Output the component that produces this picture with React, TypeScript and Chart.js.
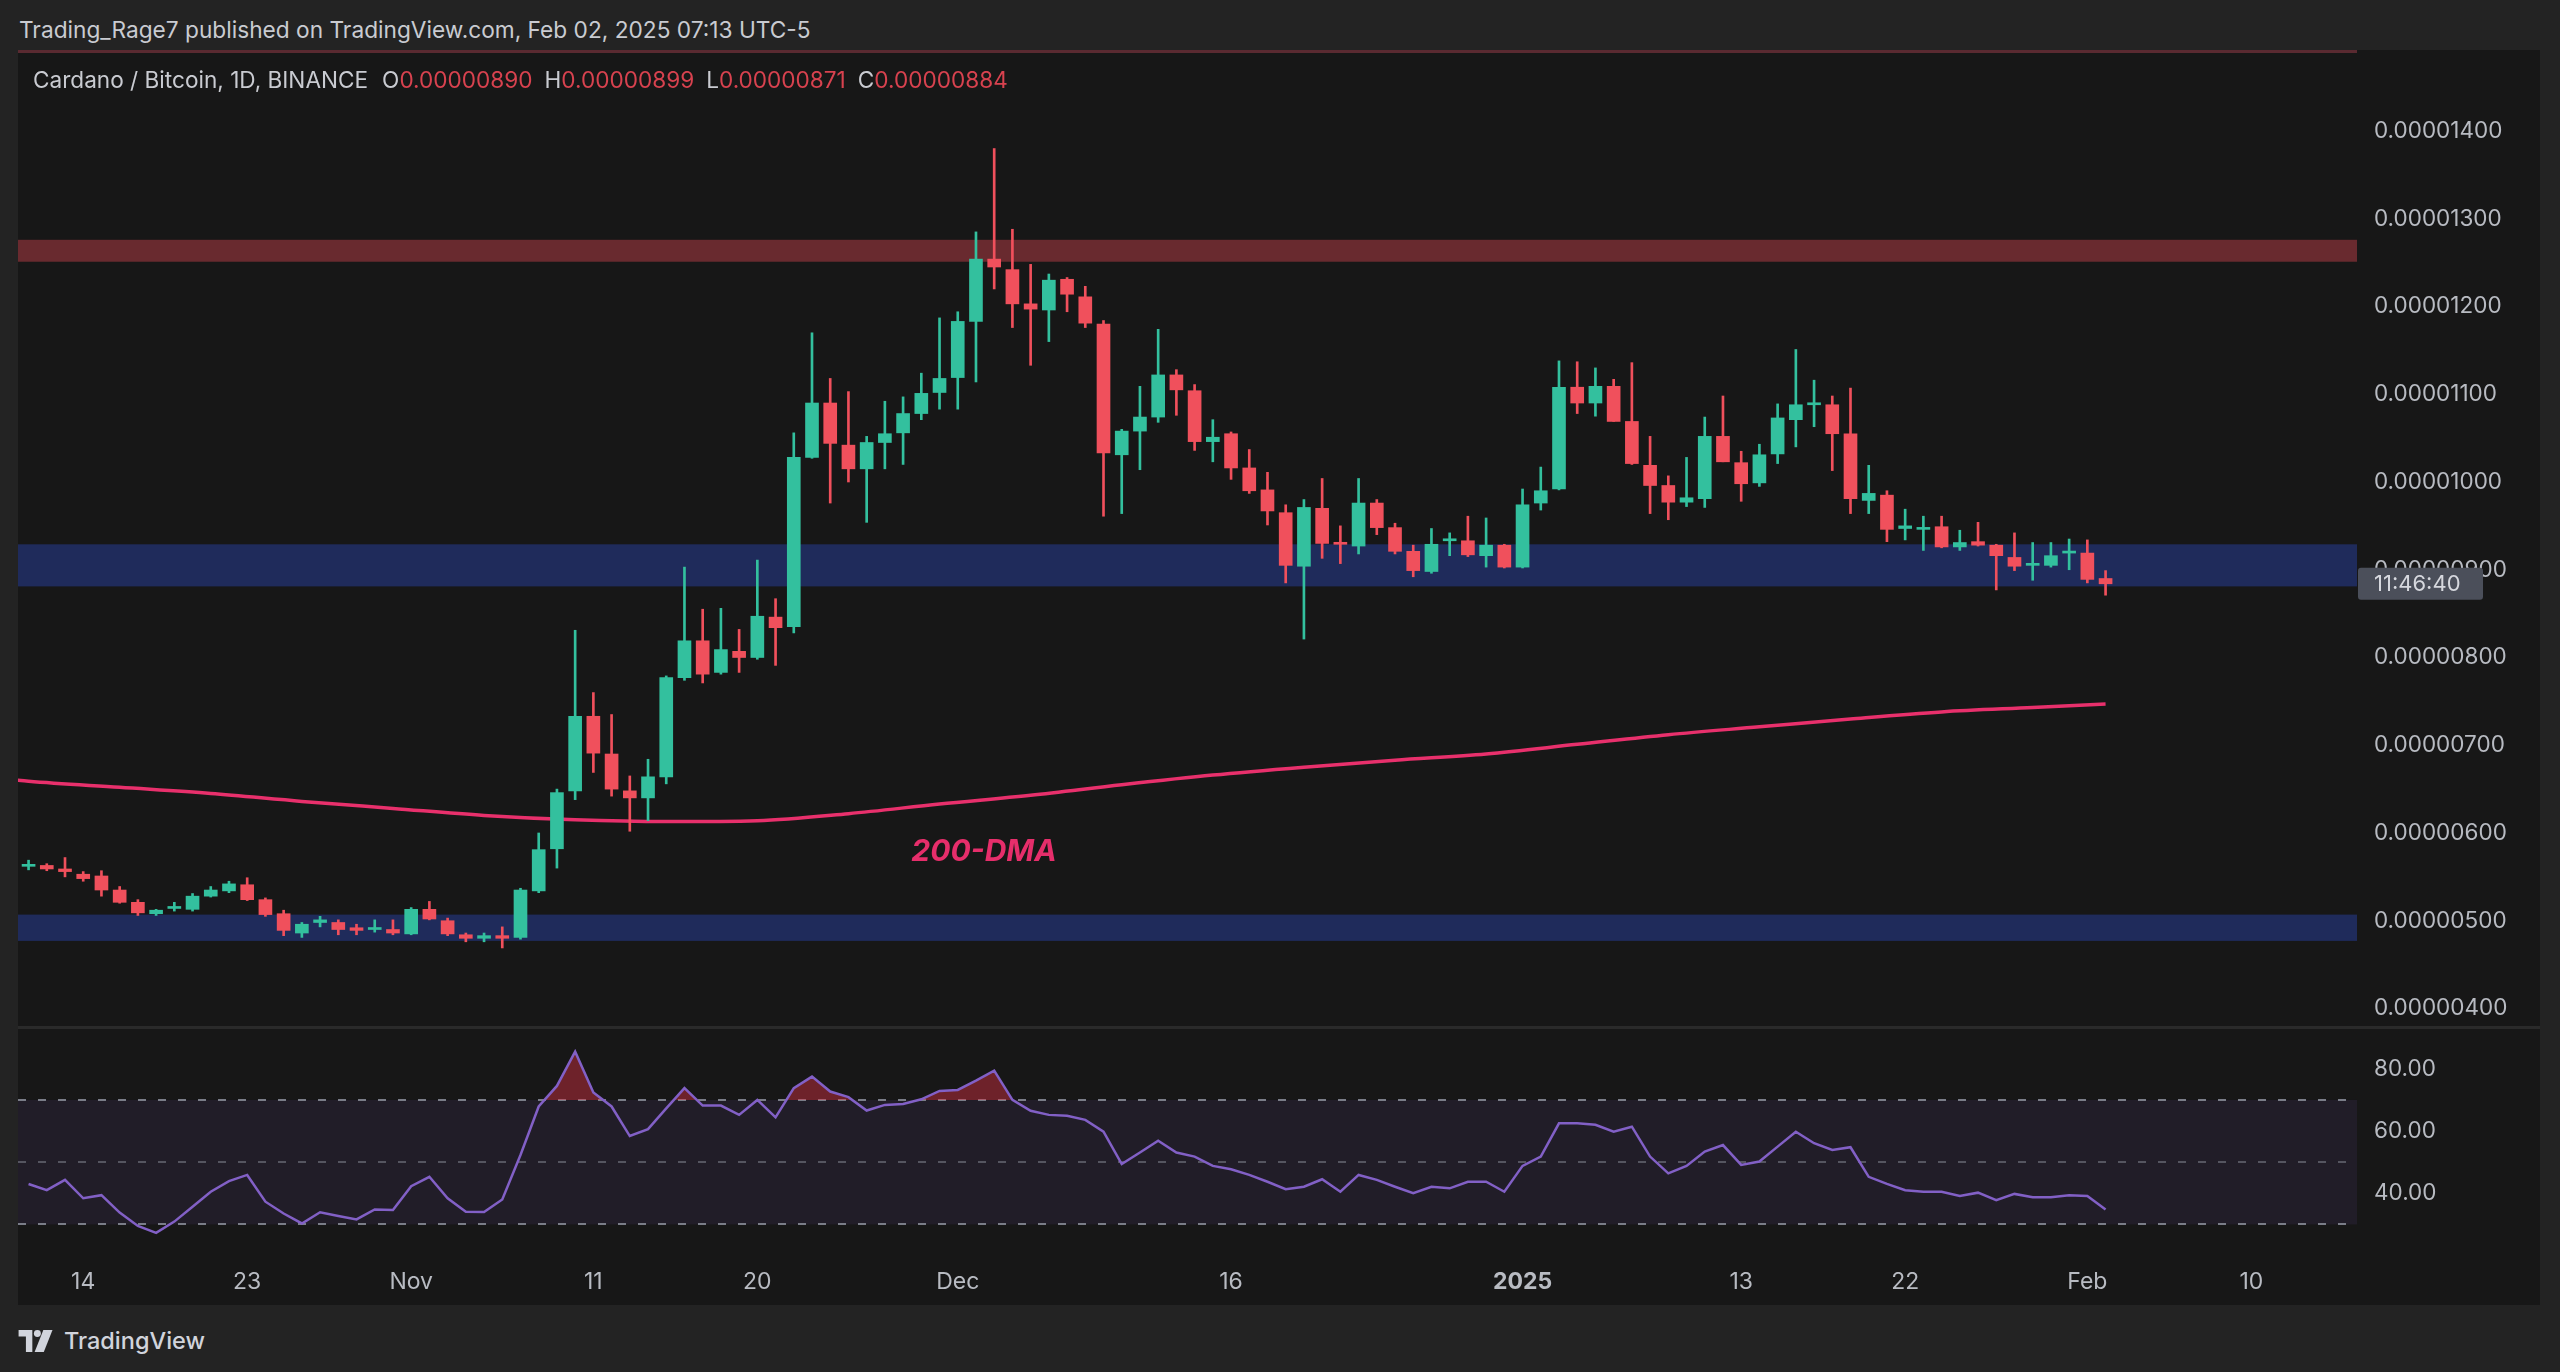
import React, { useEffect, useRef } from 'react';
import { Chart, registerables } from 'chart.js';

Chart.register(...registerables);

// ---------- data (prices in satoshi, i.e. units of 0.00000001 BTC) ----------
const startDate = '2024-10-11';
const opens = [562,563,559,553,551,535,521,508,514,513, 528,534,541,524,508,486,498,498,492,490, 490,485,513,500,484,480,483,481,534,582, 648,733,690,648,640,664,777,819,783,807, 800,846,835,1028,1090,1042,1015,1045,1056,1078, 1102,1119,1183,1254,1242,1203,1196,1231,1211,1180, 1031,1058,1074,1122,1104,1046,1055,1016,991,965, 904,970,931,927,976,948,921,898,933,933, 916,928,903,976,992,1108,1090,1109,1069,1019, 996,977,981,1052,1022,999,1032,1071,1088,1088, 1055,979,985,947,946,949,926,932,928,914, 905,905,919,919,890];
const highs = [569,565,572,556,557,539,524,513,521,531, 539,545,549,526,512,498,505,501,496,501, 501,515,522,503,486,486,493,537,600,650, 831,760,735,665,684,779,903,855,856,832, 911,867,1056,1170,1118,1103,1052,1092,1097,1124, 1187,1194,1285,1380,1288,1248,1237,1233,1223,1184, 1060,1109,1174,1128,1111,1071,1057,1037,1011,974, 980,1004,950,1004,980,953,928,947,942,961, 959,929,992,1017,1138,1137,1130,1117,1136,1052, 1007,1028,1074,1098,1035,1043,1089,1151,1116,1098, 1107,1019,990,969,961,961,945,954,929,942, 931,931,935,934,899];
const lows = [558,557,550,545,528,520,506,506,511,511, 527,532,523,505,483,481,493,484,484,487, 484,484,501,483,476,476,469,479,532,560, 638,669,642,602,614,656,774,771,781,783, 798,791,828,1027,976,1000,954,1015,1020,1071, 1083,1083,1114,1220,1176,1133,1160,1194,1176,961, 964,1014,1068,1076,1036,1023,1003,987,951,885, 821,913,907,918,940,918,892,896,916,915, 903,902,902,968,991,1078,1075,1069,1020,964, 957,972,971,1023,978,995,1021,1040,1063,1013, 964,964,932,934,922,925,922,927,877,899, 888,903,900,885,871];
const closes = [564,559,556,548,535,521,509,512,516,528, 535,542,524,507,489,496,501,490,489,492, 486,513,502,485,480,483,480,535,581,646, 733,691,650,640,664,777,819,781,809,800, 847,834,1028,1090,1044,1015,1045,1055,1078,1101, 1118,1183,1254,1245,1203,1197,1230,1214,1181,1033, 1058,1074,1122,1105,1046,1051,1016,990,967,905, 971,930,929,976,948,921,899,929,935,917, 928,903,974,990,1108,1090,1109,1069,1021,996, 977,982,1052,1023,998,1031,1073,1088,1090,1055, 981,987,946,950,948,926,931,928,916,904, 907,916,921,889,884];
const rsiValues = [43.0,41.0,44.3,38.4,39.4,33.8,29.5,27.3,30.9,35.7, 40.5,43.9,45.9,37.3,33.5,30.3,33.9,32.7,31.6,34.8, 34.6,42.3,45.3,38.4,34.1,34.0,38.0,52.3,67.9,74.5, 85.5,72.4,67.9,58.4,60.6,67.3,73.8,68.2,68.2,65.2, 70.0,64.4,73.8,77.5,72.7,70.9,66.6,68.4,68.7,70.2, 72.9,73.2,76.2,79.4,70.0,66.5,65.2,64.9,63.6,59.8, 49.4,53.1,56.9,53.1,51.8,48.8,47.7,45.9,43.7,41.3, 42.1,44.5,40.5,45.9,44.3,42.1,40.0,42.1,41.6,43.7, 43.7,40.5,48.8,51.8,62.5,62.5,62.0,59.8,61.4,51.8, 46.4,48.8,53.4,55.5,49.1,50.2,55.0,59.8,56.1,53.9, 54.8,45.3,43.0,41.0,40.5,40.5,39.1,40.2,37.8,39.8, 38.7,38.7,39.4,39.1,34.8];
const dmaDates = ['2024-10-10','2024-10-11','2024-10-16','2024-10-21','2024-10-26','2024-10-31','2024-11-05','2024-11-10','2024-11-15','2024-11-20','2024-11-25','2024-11-30','2024-12-05','2024-12-10','2024-12-15','2024-12-20','2024-12-25','2024-12-30','2025-01-04','2025-01-09','2025-01-14','2025-01-19','2025-01-24','2025-01-29','2025-02-02'];
const dmaValues = [661,659,652,645,636,628,620,615,613,614,622,633,643,655,666,675,683,690,701,712,721,730,738,743,747];
const xTickDates = ['2024-10-14','2024-10-23','2024-11-01','2024-11-11','2024-11-20','2024-12-01','2024-12-16','2025-01-01','2025-01-13','2025-01-22','2025-02-01','2025-02-10'];
const xTickLabels = ['14','23','Nov','11','20','Dec','16','2025','13','22','Feb','10'];
const priceTicks = [400,500,600,700,800,900,1000,1100,1200,1300,1400];
const rsiTicks = [40,60,80];
const rsiLevels = [70,50,30];
const resistanceZone = [1251,1276];
const supportZones = [[881,929],[477,507]];
const dmaLabel = { day: 48.45, price: 578, text: '200-DMA' };
const countdownText = '11:46:40';
const xRange = [-0.58, 127.8];
const priceRange = [378.9, 1492.3];
const rsiRange = [19.2, 92.8];

// ---------- styles ----------
const FONT = 'Inter, "Noto Sans", "DejaVu Sans", sans-serif';
const UP = '#33c09e';
const DOWN = '#f0505c';
const AXIS_TEXT = '#b8bbc2';
const DAY_MS = 86400000;
const dayIndex = (s: string) => (Date.parse(s) - Date.parse(startDate)) / DAY_MS;
const sat = (v: number) => (v / 1e8).toFixed(8);

const PANEL_BG = '#171717';
const OUTER_BG = '#232323';

const noPad = (s: any) => {
  s.paddingTop = 0;
  s.paddingBottom = 0;
  s.paddingLeft = 0;
  s.paddingRight = 0;
};

function PriceChart() {
  const ref = useRef<HTMLCanvasElement | null>(null);
  useEffect(() => {
    if (!ref.current) return;
    const colors = closes.map((c, i) => (c >= opens[i] ? UP : DOWN));
    const bodies = opens.map((o, i) => ({ x: i, y: [o, closes[i]] }));
    const wicks = lows.map((l, i) => ({ x: i, y: [l, highs[i]] }));
    const dma = dmaDates.map((d, i) => ({ x: dayIndex(d), y: dmaValues[i] }));

    const zonesPlugin = {
      id: 'zones',
      beforeDatasetsDraw(chart: any) {
        const { ctx, chartArea: a, scales } = chart;
        const y = scales.y;
        ctx.save();
        ctx.fillStyle = '#692a2f';
        const r0 = y.getPixelForValue(resistanceZone[1]);
        const r1 = y.getPixelForValue(resistanceZone[0]);
        ctx.fillRect(a.left, r0, a.right - a.left, r1 - r0);
        ctx.fillStyle = '#1f2b5b';
        supportZones.forEach(([lo, hi]) => {
          const t = y.getPixelForValue(hi);
          const b = y.getPixelForValue(lo);
          ctx.fillRect(a.left, t, a.right - a.left, b - t);
        });
        ctx.restore();
      },
      afterDatasetsDraw(chart: any) {
        const { ctx, scales } = chart;
        ctx.save();
        ctx.fillStyle = '#e62e6b';
        ctx.font = `italic bold 30px ${FONT}`;
        ctx.textBaseline = 'middle';
        ctx.textAlign = 'left';
        ctx.fillText(dmaLabel.text, scales.x.getPixelForValue(dmaLabel.day), scales.y.getPixelForValue(dmaLabel.price));
        ctx.restore();
      },
      afterDraw(chart: any) {
        const { ctx, chartArea: a, scales } = chart;
        const yc = scales.y.getPixelForValue(closes[closes.length - 1]);
        ctx.save();
        ctx.fillStyle = '#4b4f5a';
        const x0 = a.right + 1;
        ctx.beginPath();
        (ctx as any).roundRect ? (ctx as any).roundRect(x0, yc - 16, 125, 32, 3) : ctx.rect(x0, yc - 16, 125, 32);
        ctx.fill();
        ctx.fillStyle = '#d6d8de';
        ctx.font = `22px ${FONT}`;
        ctx.textBaseline = 'middle';
        ctx.textAlign = 'left';
        ctx.fillText(countdownText, x0 + 16, yc + 1);
        ctx.restore();
      },
    };

    const chart = new Chart(ref.current, {
      type: 'bar',
      data: {
        datasets: [
          { type: 'bar', data: bodies as any, backgroundColor: colors, borderWidth: 0, barThickness: 13, minBarLength: 2, grouped: false } as any,
          { type: 'bar', data: wicks as any, backgroundColor: colors, borderWidth: 0, barThickness: 2, grouped: false } as any,
          { type: 'line', data: dma as any, borderColor: '#e8306c', borderWidth: 3.5, pointRadius: 0, cubicInterpolationMode: 'monotone', fill: false } as any,
        ],
      },
      options: {
        animation: false,
        responsive: true,
        maintainAspectRatio: false,
        layout: { padding: 0, autoPadding: false },
        plugins: { legend: { display: false }, tooltip: { enabled: false } },
        scales: {
          x: { type: 'linear', min: xRange[0], max: xRange[1], offset: false, display: false, afterFit: noPad },
          y: {
            type: 'linear',
            position: 'right',
            min: priceRange[0],
            max: priceRange[1],
            grid: { display: false, drawTicks: false, tickLength: 0 },
            border: { display: false },
            ticks: { color: AXIS_TEXT, font: { family: FONT, size: 22.5 }, padding: 17, callback: (v: any) => sat(Number(v)) },
            afterBuildTicks: (s: any) => { s.ticks = priceTicks.map((v) => ({ value: v })); },
            afterFit: (s: any) => { s.width = 183; noPad(s); },
          },
        },
      } as any,
      plugins: [zonesPlugin],
    });
    return () => chart.destroy();
  }, []);
  return <canvas ref={ref} />;
}

function RsiChart() {
  const ref = useRef<HTMLCanvasElement | null>(null);
  useEffect(() => {
    if (!ref.current) return;
    const bandPlugin = {
      id: 'band',
      beforeDatasetsDraw(chart: any) {
        const { ctx, chartArea: a, scales } = chart;
        const y = scales.y;
        ctx.save();
        ctx.fillStyle = 'rgba(126, 87, 194, 0.10)';
        const t = y.getPixelForValue(rsiLevels[0]);
        const b = y.getPixelForValue(rsiLevels[2]);
        ctx.fillRect(a.left, t, a.right - a.left, b - t);
        ctx.lineWidth = 2;
        ctx.setLineDash([8, 12]);
        rsiLevels.forEach((lv, i) => {
          ctx.strokeStyle = i === 1 ? 'rgba(120,123,134,0.6)' : '#7a7d88';
          const py = Math.round(y.getPixelForValue(lv));
          ctx.beginPath();
          ctx.moveTo(a.left, py);
          ctx.lineTo(a.right, py);
          ctx.stroke();
        });
        ctx.restore();
      },
    };
    const chart = new Chart(ref.current, {
      type: 'line',
      data: {
        datasets: [
          {
            data: rsiValues.map((v, i) => ({ x: i, y: v })) as any,
            borderColor: '#8260c6',
            borderWidth: 2.5,
            pointRadius: 0,
            tension: 0,
            fill: { target: { value: 70 }, above: 'rgba(230, 50, 70, 0.42)', below: 'rgba(0,0,0,0)' },
          } as any,
        ],
      },
      options: {
        animation: false,
        responsive: true,
        maintainAspectRatio: false,
        layout: { padding: 0, autoPadding: false },
        plugins: { legend: { display: false }, tooltip: { enabled: false } },
        scales: {
          x: {
            type: 'linear',
            min: xRange[0],
            max: xRange[1],
            offset: false,
            grid: { display: false, drawTicks: false, tickLength: 0 },
            border: { display: false },
            ticks: {
              autoSkip: false,
              maxRotation: 0,
              padding: 10,
              color: AXIS_TEXT,
              font: (c: any) => ({ family: FONT, size: 23, weight: c.tick && c.tick.label === '2025' ? 'bold' : 'normal' }),
              callback: (_v: any, i: number) => xTickLabels[i],
            },
            afterBuildTicks: (s: any) => { s.ticks = xTickDates.map((d) => ({ value: dayIndex(d) })); },
            afterFit: (s: any) => { s.height = 47; noPad(s); },
          },
          y: {
            type: 'linear',
            position: 'right',
            min: rsiRange[0],
            max: rsiRange[1],
            grid: { display: false, drawTicks: false, tickLength: 0 },
            border: { display: false },
            ticks: { color: AXIS_TEXT, font: { family: FONT, size: 22.5 }, padding: 17, callback: (v: any) => Number(v).toFixed(2) },
            afterBuildTicks: (s: any) => { s.ticks = rsiTicks.map((v) => ({ value: v })); },
            afterFit: (s: any) => { s.width = 183; noPad(s); },
          },
        },
      } as any,
      plugins: [bandPlugin],
    });
    return () => chart.destroy();
  }, []);
  return <canvas ref={ref} />;
}

function Logo() {
  return (
    <svg width="36" height="22" viewBox="0 0 38 24" style={{ display: 'block' }}>
      <path d="M0 0h15v24h-7V7H0z" fill="#d1d4dc" />
      <circle cx="20.5" cy="3.8" r="3.8" fill="#d1d4dc" />
      <path d="M27 0h10l-9.5 24H17.5z" fill="#d1d4dc" />
    </svg>
  );
}

export default function App() {
  useEffect(() => {
    document.body.style.margin = '0';
    document.body.style.overflow = 'hidden';
  }, []);
  const n = closes.length - 1;
  const ohlc = [['O', opens[n]], ['H', highs[n]], ['L', lows[n]], ['C', closes[n]]] as [string, number][];
  return (
    <div style={{ position: 'absolute', left: 0, top: 0, width: 2560, height: 1372, background: OUTER_BG, overflow: 'hidden', fontFamily: FONT }}>
      <div style={{ position: 'absolute', left: 19, top: 15, fontSize: 22.7, lineHeight: '30px', color: '#c9cbd1', whiteSpace: 'nowrap' }}>
        Trading_Rage7 published on TradingView.com, Feb 02, 2025 07:13 UTC-5
      </div>
      <div style={{ position: 'absolute', left: 18, top: 50, width: 2522, height: 1255, background: PANEL_BG }} />
      <div style={{ position: 'absolute', left: 18, top: 50, width: 2522, height: 977 }}>
        <PriceChart />
      </div>
      <div style={{ position: 'absolute', left: 18, top: 50, width: 2339, height: 3, background: '#5a2a31' }} />
      <div style={{ position: 'absolute', left: 33, top: 65, fontSize: 22.6, lineHeight: '30px', color: '#c9cbd1', whiteSpace: 'nowrap' }}>
        Cardano / Bitcoin, 1D, BINANCE
        {ohlc.map(([k, v], i) => (
          <span key={k} style={{ marginLeft: i === 0 ? 14 : 12 }}>
            {k}
            <span style={{ color: '#d8424f' }}>{sat(v)}</span>
          </span>
        ))}
      </div>
      <div style={{ position: 'absolute', left: 18, top: 1026, width: 2522, height: 3, background: '#2a2a2a' }} />
      <div style={{ position: 'absolute', left: 18, top: 1029, width: 2522, height: 276 }}>
        <RsiChart />
      </div>
      <div style={{ position: 'absolute', left: 18, top: 1328, display: 'flex', alignItems: 'center', gap: 10 }}>
        <Logo />
        <span style={{ fontSize: 23.5, color: '#d1d4dc', fontWeight: 500, lineHeight: '26px' }}>TradingView</span>
      </div>
    </div>
  );
}
